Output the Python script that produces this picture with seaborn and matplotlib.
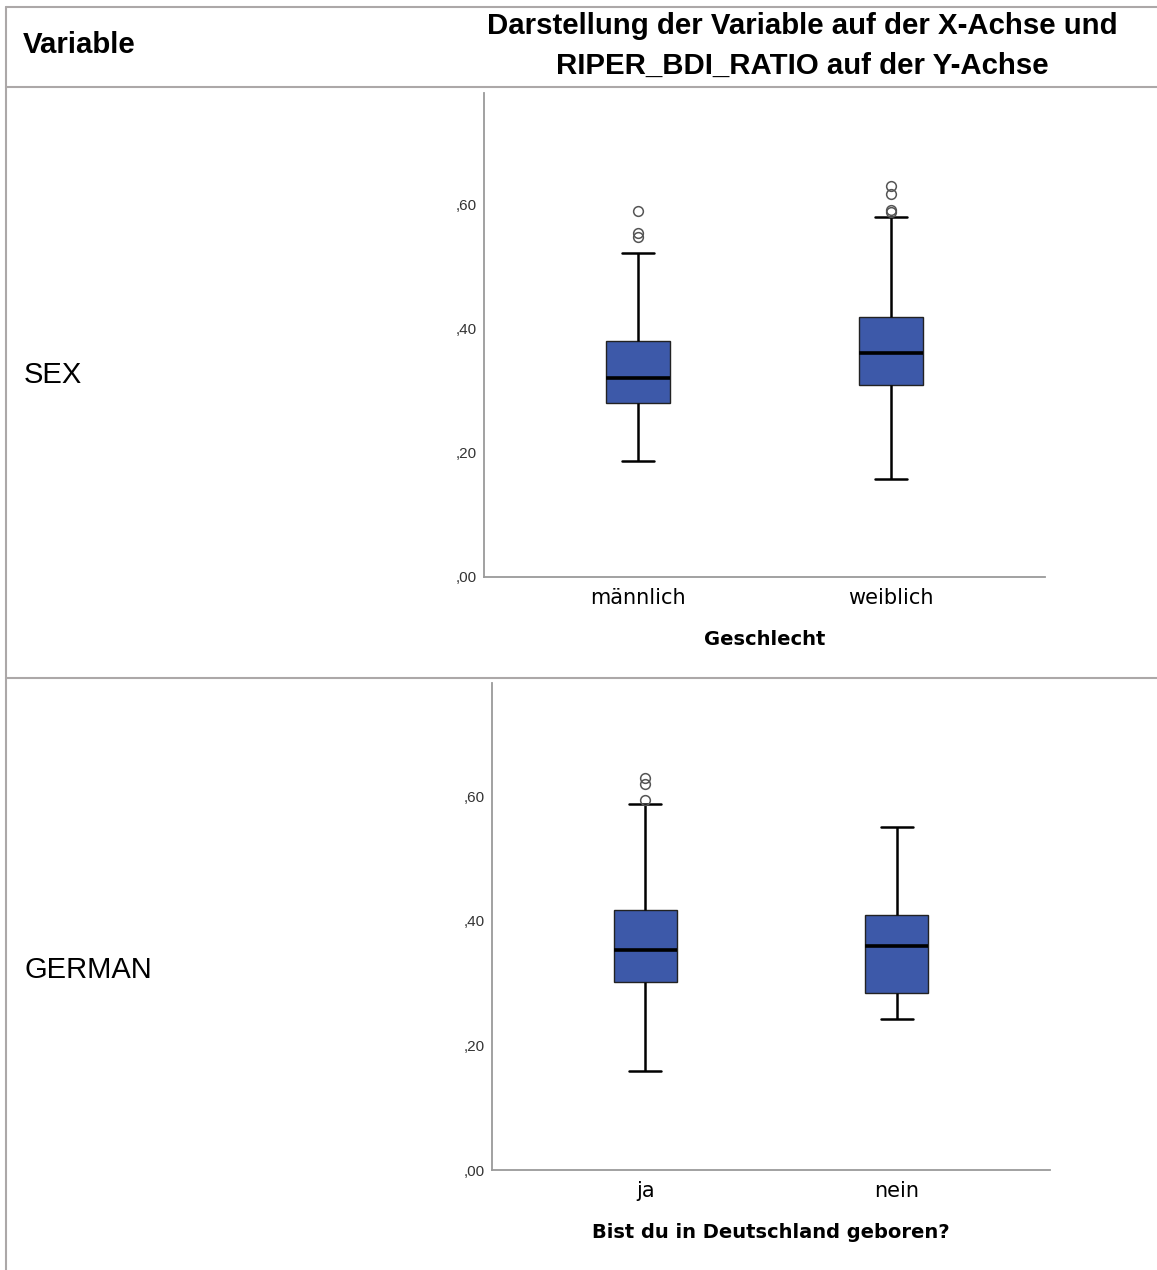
import matplotlib.pyplot as plt
import seaborn as sns
import pandas as pd
from matplotlib.lines import Line2D
from matplotlib.ticker import FuncFormatter

# --- values (RIPER_BDI_RATIO) ---
# box summary per group: lower whisker, Q1, median, Q3, upper whisker, outliers
sex_groups = ["männlich", "weiblich"]
sex_lo = [0.187, 0.158]
sex_q1 = [0.281, 0.310]
sex_med = [0.321, 0.361]
sex_q3 = [0.381, 0.419]
sex_hi = [0.523, 0.581]
sex_out = [[0.549, 0.555, 0.590], [0.589, 0.592, 0.617, 0.631]]

ger_groups = ["ja", "nein"]
ger_lo = [0.159, 0.242]
ger_q1 = [0.302, 0.284]
ger_med = [0.353, 0.360]
ger_q3 = [0.418, 0.409]
ger_hi = [0.588, 0.551]
ger_out = [[0.594, 0.620, 0.629], []]

y_ticks = [0.0, 0.2, 0.4, 0.6]

BLUE = "#3d59a9"
GRID = "#aca8a8"


def build_frame(groups, lo, q1, med, q3, hi, out):
    # repeat the read stats so that seaborn's quartiles land exactly on them (n = 41)
    rows = []
    for i, g in enumerate(groups):
        vals = [lo[i]] + [q1[i]] * 15 + [med[i]] * 10 + [q3[i]] * (14 - len(out[i])) + [hi[i]] + out[i]
        rows += [(g, v) for v in vals]
    return pd.DataFrame(rows, columns=["group", "value"])


def draw_box(ax, df, groups, xlabel, ytop):
    sns.boxplot(data=df, x="group", y="value", order=groups, ax=ax, width=0.253,
                color=BLUE, saturation=1, linecolor="#222222", linewidth=1,
                medianprops=dict(color="black", linewidth=2.6),
                whiskerprops=dict(color="black", linewidth=1.8),
                capprops=dict(color="black", linewidth=1.8),
                flierprops=dict(marker="o", markerfacecolor="none", markeredgecolor="#555555",
                                markeredgewidth=1.1, markersize=7))
    ax.set_xlim(-0.61, 1.61)
    ax.set_ylim(0, ytop)
    ax.set_yticks(y_ticks)
    ax.yaxis.set_major_formatter(FuncFormatter(lambda v, p: ",%02d" % round(v * 100)))
    ax.tick_params(axis="y", length=0, pad=5, labelsize=11, labelcolor="#333333")
    ax.tick_params(axis="x", length=0, pad=8, labelsize=15, labelcolor="black")
    for lab in ax.get_yticklabels():
        lab.set_fontfamily("Liberation Sans")
    ax.set_ylabel("")
    ax.set_xlabel(xlabel, fontsize=14, fontweight="bold", labelpad=16, color="black")
    for s in ["top", "right"]:
        ax.spines[s].set_visible(False)
    for s in ["left", "bottom"]:
        ax.spines[s].set_color("#9a9a9a")
        ax.spines[s].set_linewidth(1.3)


sns.set_style("white")
plt.rcParams["font.family"] = ["DejaVu Sans"]
plt.rcParams["text.color"] = "black"

W, H = 1157, 1270
fig = plt.figure(figsize=(W / 100, H / 100), dpi=100)


def fx(px):
    return px / W


def fy(py):
    return 1 - py / H


# --- table lines ---
for y in [7, 87, 678]:
    fig.add_artist(Line2D([fx(6), 1], [fy(y), fy(y)], color=GRID, linewidth=1.5))
fig.add_artist(Line2D([fx(6), fx(6)], [fy(7), 0], color=GRID, linewidth=1.5))

# --- table texts ---
fig.text(fx(23), fy(45), "Variable", fontsize=21.2, fontweight="bold",
         family="Liberation Sans", va="center", ha="left")
fig.text(fx(802), fy(26), "Darstellung der Variable auf der X-Achse und", fontsize=21.2,
         fontweight="bold", family="Liberation Sans", va="center", ha="center")
fig.text(fx(802), fy(66), "RIPER_BDI_RATIO auf der Y-Achse", fontsize=21.2,
         fontweight="bold", family="Liberation Sans", va="center", ha="center")
fig.text(fx(24), fy(375), "SEX", fontsize=21, family="Liberation Sans", va="center", ha="left")
fig.text(fx(24), fy(970), "GERMAN", fontsize=21, family="Liberation Sans", va="center", ha="left")

# --- SEX chart ---
ax1 = fig.add_axes([fx(484), fy(577), fx(1045) - fx(484), fy(93) - fy(577)])
sex_df = build_frame(sex_groups, sex_lo, sex_q1, sex_med, sex_q3, sex_hi, sex_out)
draw_box(ax1, sex_df, sex_groups, "Geschlecht", (577 - 93) / 620)

# --- GERMAN chart ---
ax2 = fig.add_axes([fx(492), fy(1170), fx(1050) - fx(492), fy(683) - fy(1170)])
ger_df = build_frame(ger_groups, ger_lo, ger_q1, ger_med, ger_q3, ger_hi, ger_out)
draw_box(ax2, ger_df, ger_groups, "Bist du in Deutschland geboren?", (1170 - 683) / 623)

plt.savefig("out.png", dpi=100)
